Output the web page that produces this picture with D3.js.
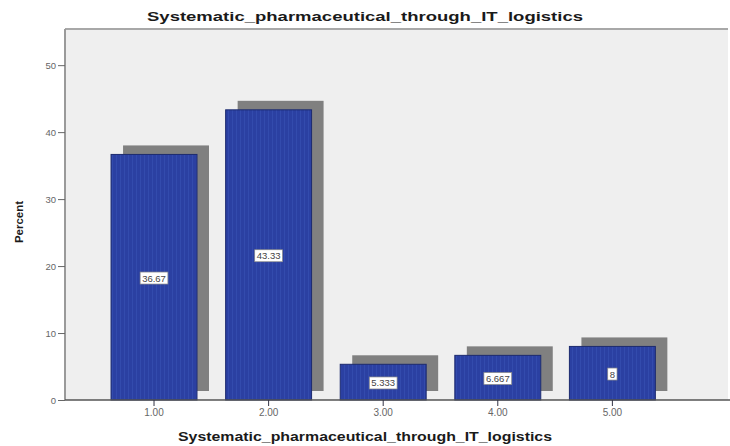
<!DOCTYPE html>
<html><head><meta charset="utf-8">
<script src="https://cdn.jsdelivr.net/npm/d3@7"></script>
<style>body{margin:0;background:#fff}svg{display:block}</style>
</head><body>
<script>
const categories = ["1.00","2.00","3.00","4.00","5.00"];
const percents = [36.67, 43.33, 5.333, 6.667, 8];
const labels = ["36.67","43.33","5.333","6.667","8"];
const yTicks = [0,10,20,30,40,50];
const titleText = "Systematic_pharmaceutical_through_IT_logistics";
const yTitle = "Percent";

const W=730,H=446;
const svg=d3.select("body").append("svg").attr("width",W).attr("height",H);
const defs=svg.append("defs");
const pat=defs.append("pattern").attr("id","stripe").attr("patternUnits","userSpaceOnUse").attr("width",4).attr("height",4);
pat.append("rect").attr("width",4).attr("height",4).attr("fill","#2b40a2");
pat.append("rect").attr("x",0).attr("width",1).attr("height",4).attr("fill","#334bad");

const pL=65, pR=728, pT=29, pB=400;
const x=d3.scaleBand().domain(categories).range([82.4,684]).padding(0.25);
const y=d3.scaleLinear().domain([0,55.4]).range([pB,pT]);

// plot background
svg.append("rect").attr("x",pL).attr("y",pT).attr("width",pR-pL).attr("height",pB-pT).attr("fill","#efefef");
svg.append("line").attr("x1",pL).attr("x2",pR).attr("y1",pT).attr("y2",pT).attr("stroke","#a8a8a8").attr("stroke-width",2);

const data=categories.map((c,i)=>({c,v:percents[i],l:labels[i]}));
const dx=12, dy=-9;
// shadows
svg.append("g").selectAll("rect").data(data).join("rect")
 .attr("x",d=>x(d.c)+dx).attr("y",d=>y(d.v)+dy)
 .attr("width",x.bandwidth()).attr("height",d=>y(0)-y(d.v))
 .attr("fill","#808080");
// bars
svg.append("g").selectAll("rect").data(data).join("rect")
 .attr("x",d=>x(d.c)).attr("y",d=>y(d.v))
 .attr("width",x.bandwidth()).attr("height",d=>y(0)-y(d.v))
 .attr("fill","url(#stripe)").attr("stroke","#1c2a6e").attr("stroke-width",1);

// y axis
const ya=svg.append("g").attr("transform",`translate(${pL},0)`)
 .call(d3.axisLeft(y).tickValues(yTicks).tickSize(7).tickPadding(2));
ya.select(".domain").attr("stroke","#9a9a9a").attr("stroke-width",2).attr("d",`M0,${pT}V${pB}`);
ya.selectAll(".tick line").attr("stroke","#666");
ya.selectAll(".tick text").attr("fill","#666").style("font-family","Liberation Sans, Arial, sans-serif").style("font-size","9.5px");

// x axis
const xa=svg.append("g").attr("transform",`translate(0,${pB})`)
 .call(d3.axisBottom(x).tickSize(6).tickPadding(3));
xa.select(".domain").attr("stroke","#555").attr("stroke-width",1.5).attr("d",`M${pL},0H${W}`);
xa.selectAll(".tick line").attr("stroke","#334");
xa.selectAll(".tick text").attr("fill","#666").style("font-family","Liberation Sans, Arial, sans-serif").style("font-size","10px");

// value labels
const lg=svg.append("g").selectAll("g").data(data).join("g")
 .attr("transform",d=>`translate(${x(d.c)+x.bandwidth()/2},${(y(d.v)+y(0))/2+1})`);
lg.append("rect").attr("fill","#fff").attr("stroke","#888").attr("stroke-width",0.7);
lg.append("text").text(d=>d.l).attr("text-anchor","middle").attr("dy","0.35em")
 .attr("fill","#444").style("font-family","Liberation Sans, Arial, sans-serif").style("font-size","9.5px");
lg.each(function(){
  const g=d3.select(this);const b=g.select("text").node().getBBox();
  g.select("rect").attr("x",b.x-2).attr("y",b.y-0.5).attr("width",b.width+4).attr("height",b.height+1);
});

// titles
svg.append("text").attr("x",365).attr("y",21).attr("text-anchor","middle")
 .attr("textLength",436).attr("lengthAdjust","spacingAndGlyphs")
 .style("font-family","Liberation Sans, Arial, sans-serif").style("font-weight","bold").style("font-size","13px").attr("fill","#1a1a1a")
 .text(titleText);
svg.append("text").attr("x",365).attr("y",441).attr("text-anchor","middle")
 .attr("textLength",374).attr("lengthAdjust","spacingAndGlyphs")
 .style("font-family","Liberation Sans, Arial, sans-serif").style("font-weight","bold").style("font-size","12px").attr("fill","#1a1a1a")
 .text(titleText);
svg.append("text").attr("transform","translate(23,222) rotate(-90)").attr("text-anchor","middle")
 .style("font-family","Liberation Sans, Arial, sans-serif").style("font-weight","bold").style("font-size","11.5px").attr("fill","#1a1a1a")
 .text(yTitle);
</script>
</body></html>
